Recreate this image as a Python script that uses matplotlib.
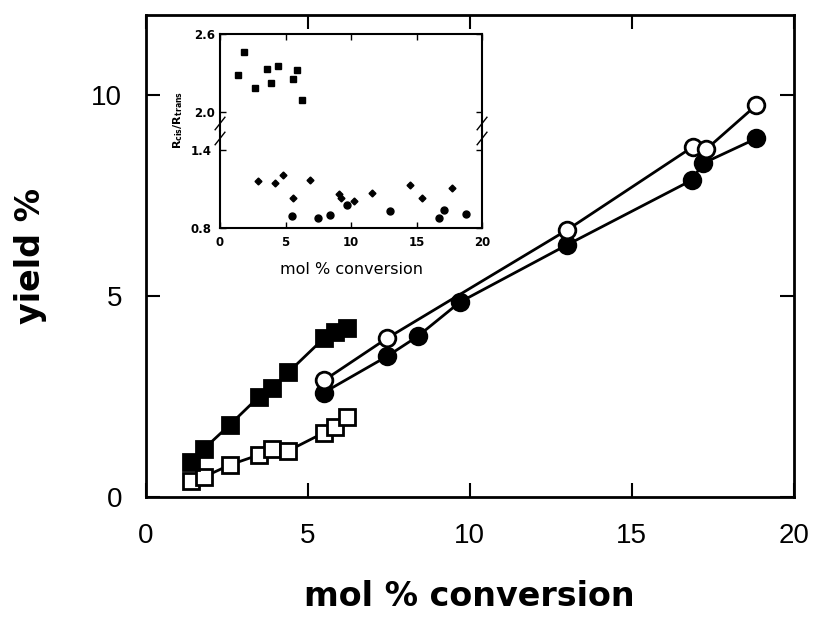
import matplotlib
matplotlib.use("Agg")
import matplotlib.pyplot as plt

plt.rcParams['font.family'] = ['Liberation Sans', 'DejaVu Sans']

# yield vs conversion, main panel
sq_x = [1.4, 1.8, 2.6, 3.5, 3.9, 4.4, 5.5, 5.85, 6.2]
sq_filled_y = [0.88, 1.2, 1.8, 2.5, 2.7, 3.1, 3.95, 4.1, 4.2]
sq_open_y = [0.4, 0.5, 0.8, 1.05, 1.2, 1.15, 1.6, 1.75, 2.0]

circ_open_x = [5.5, 7.45, 13.0, 16.9, 17.3, 18.85]
circ_open_y = [2.9, 3.95, 6.64, 8.72, 8.65, 9.75]
circ_filled_x = [5.5, 7.45, 8.4, 9.7, 13.0, 16.85, 17.2, 18.85]
circ_filled_y = [2.6, 3.5, 4.0, 4.85, 6.27, 7.88, 8.3, 8.92]

# Rcis/Rtrans ratios, inset
ins_sq_x = [1.4, 1.8, 2.65, 3.55, 3.9, 4.4, 5.6, 5.9, 6.25]
ins_sq_y = [2.28, 2.46, 2.18, 2.33, 2.22, 2.35, 2.25, 2.32, 2.09]
ins_dia_x = [2.9, 4.2, 4.8, 5.6, 6.9, 9.05, 9.2, 10.2, 11.6, 14.5, 15.4, 17.7]
ins_dia_y = [1.16, 1.15, 1.21, 1.03, 1.17, 1.06, 1.03, 1.01, 1.07, 1.13, 1.03, 1.11]
ins_dot_x = [5.5, 7.45, 8.4, 9.7, 13.0, 16.75, 17.1, 18.75]
ins_dot_y = [0.89, 0.88, 0.90, 0.98, 0.93, 0.88, 0.94, 0.91]

fig = plt.figure(figsize=(8.14, 6.24), dpi=100)
ax = fig.add_axes([0.179, 0.2035, 0.796, 0.773])

mk = dict(markersize=12, markeredgewidth=2, color='black', linewidth=2)
ax.plot(sq_x, sq_open_y, marker='s', markerfacecolor='white', **mk)
ax.plot(sq_x, sq_filled_y, marker='s', **mk)
ax.plot(circ_filled_x, circ_filled_y, marker='o', **mk)
ax.plot(circ_open_x, circ_open_y, marker='o', markerfacecolor='white', **mk)

ax.set_xlim(0, 20)
ax.set_ylim(0, 12)
ax.set_xticks([0, 5, 10, 15, 20])
ax.set_yticks([0, 5, 10])
ax.tick_params(direction='in', length=10, width=1.5, top=True, right=True,
               labelsize=20)
ax.tick_params(axis='x', pad=19)
ax.tick_params(axis='y', pad=17)
for s in ax.spines.values():
    s.set_linewidth(2)
ax.set_xlabel('mol % conversion', fontsize=24, fontweight='bold',
              family='DejaVu Sans', labelpad=22)
ax.set_ylabel('yield %', fontsize=24, fontweight='bold',
              family='DejaVu Sans', labelpad=32)

# inset with a broken y axis
ax_hi = fig.add_axes([0.2703, 0.7901, 0.3219, 0.1554])
ax_lo = fig.add_axes([0.2703, 0.6346, 0.3219, 0.1555])

ax_hi.plot(ins_sq_x, ins_sq_y, 's', color='black', markersize=5)
ax_lo.plot(ins_dia_x, ins_dia_y, 'D', color='black', markersize=3.5)
ax_lo.plot(ins_dot_x, ins_dot_y, 'o', color='black', markersize=5)

for a in (ax_hi, ax_lo):
    a.set_xlim(0, 20)
    a.set_xticks([0, 5, 10, 15, 20])
    a.tick_params(direction='in', length=4, width=1, top=True, right=True,
                  labelsize=8.5)
    for s in a.spines.values():
        s.set_linewidth(1.5)

ax_hi.set_ylim(1.85, 2.6)
ax_hi.set_yticks([2.0, 2.6])
ax_hi.set_yticklabels(['2.0', '2.6'], fontweight='bold', family='DejaVu Sans')
ax_hi.spines['bottom'].set_visible(False)
ax_hi.tick_params(bottom=False, labelbottom=False)

ax_lo.set_ylim(0.8, 1.55)
ax_lo.set_yticks([0.8, 1.4])
ax_lo.set_yticklabels(['0.8', '1.4'], fontweight='bold', family='DejaVu Sans')
ax_lo.set_xticklabels(['0', '5', '10', '15', '20'], fontweight='bold',
                      family='DejaVu Sans')
ax_lo.spines['top'].set_visible(False)
ax_lo.tick_params(top=False, pad=6)
ax_lo.set_xlabel('mol % conversion', fontsize=11.5, family='DejaVu Sans',
                 labelpad=9)

# slashes where the axis is cut
d = 0.02
for xs in (0, 1):
    for dy in (-0.012, 0.012):
        fig.lines.append(plt.Line2D(
            [0.2703 + xs * 0.3219 - 0.006, 0.2703 + xs * 0.3219 + 0.006],
            [0.7901 + dy - d / 2, 0.7901 + dy + d / 2],
            transform=fig.transFigure, color='black', linewidth=1))

fig.text(0.219, 0.808, r'$\mathbf{R_{cis}/R_{trans}}$', rotation=90,
         ha='center', va='center', fontsize=8)

fig.savefig('out.png', dpi=100)
